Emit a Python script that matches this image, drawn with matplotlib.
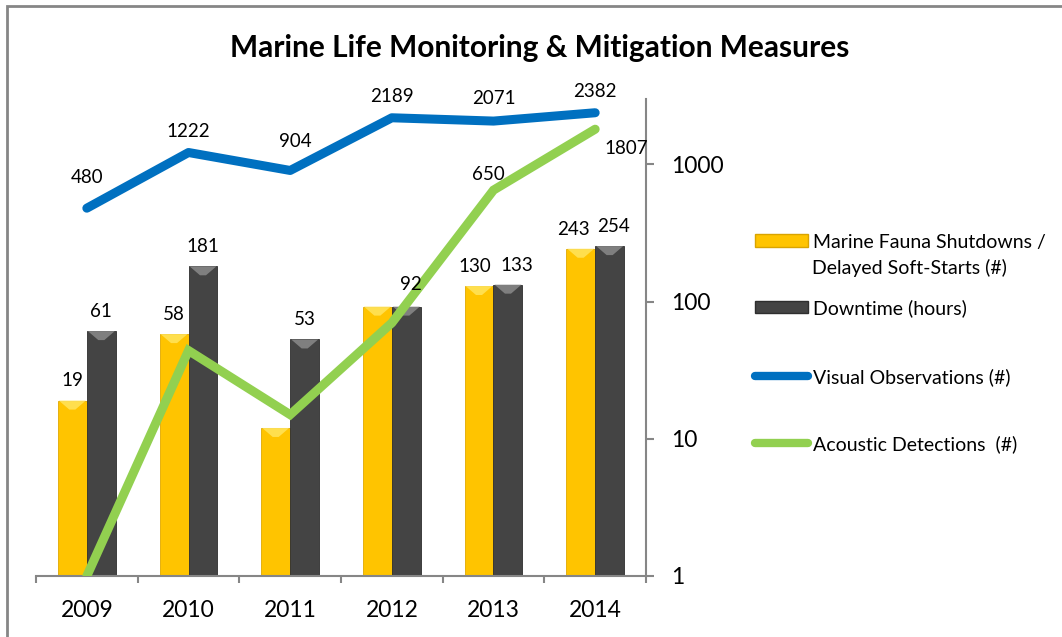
import numpy as np
import matplotlib
matplotlib.use("Agg")
import matplotlib.pyplot as plt
from matplotlib.patches import Polygon, Rectangle
from matplotlib.lines import Line2D
from matplotlib.ticker import FixedLocator, NullFormatter

plt.rcParams["font.family"] = ["Lato", "DejaVu Sans"]

years = ["2009", "2010", "2011", "2012", "2013", "2014"]
shutdowns = [19, 58, 12, 92, 130, 243]
downtime = [61, 181, 53, 92, 133, 254]
visual_obs = [480, 1222, 904, 2189, 2071, 2382]
acoustic = [1, 44, 15, 70, 650, 1807]

shutdown_labels = ["19", "58", None, None, "130", "243"]
downtime_labels = ["61", "181", "53", "92", "133", "254"]
visual_labels = ["480", "1222", "904", "2189", "2071", "2382"]
acoustic_labels = [None, None, None, None, "650", "1807"]

YELLOW = "#FFC400"
YELLOW_TOP = "#FFE45C"
GRAY = "#444444"
GRAY_TOP = "#8A8A8A"
BLUE = "#0070C0"
GREEN = "#92D050"
AXIS = "#868686"

fig = plt.figure(figsize=(10.62, 6.37), dpi=100)
W, H = 1062, 637
ax = fig.add_axes([36 / W, 1 - 576 / H, (646 - 36) / W, (576 - 99) / H])

x = np.arange(len(years))
bw = 0.285
b1 = ax.bar(x - bw / 2, [v - 1 for v in shutdowns], bw, bottom=1, color=YELLOW,
            edgecolor="#E0A800", linewidth=0.6, zorder=2)
b2 = ax.bar(x + bw / 2, [v - 1 for v in downtime], bw, bottom=1, color=GRAY,
            edgecolor="#2E2E2E", linewidth=0.6, zorder=2)

ax.set_yscale("log")
ax.set_ylim(1, 3000)
ax.set_xlim(-0.5, len(years) - 0.5)

ax.plot(x, visual_obs, color=BLUE, lw=6.5, solid_capstyle="round",
        solid_joinstyle="round", zorder=4)
ax.plot(x, acoustic, color=GREEN, lw=6.5, solid_capstyle="round",
        solid_joinstyle="miter", zorder=5)

# bevel on bar tops
fig.canvas.draw()
inv = ax.transData.inverted()
for bars, top_col in ((b1, YELLOW_TOP), (b2, GRAY_TOP)):
    for r in bars:
        x0 = r.get_x()
        x1 = x0 + r.get_width()
        top = r.get_y() + r.get_height()
        (px0, py), (px1, _) = ax.transData.transform([(x0, top), (x1, top)])
        pts = [(px0 + 1, py), (px1 - 1, py), ((px0 + px1) / 2 + 3, py - 9),
               ((px0 + px1) / 2 - 3, py - 9)]
        poly = Polygon(inv.transform(pts), closed=True, color=top_col, alpha=0.85,
                       lw=0, zorder=3)
        ax.add_patch(poly)

lbl_size = 13.5
sh_dx = [0, 0, 0, 0, -3, -5]
dt_dx = [0, 0, 0, 3, 6, 3]
dt_dy = [8, 8, 8, 10, 8, 8]
for xi, v, t, dx in zip(x, shutdowns, shutdown_labels, sh_dx):
    if t:
        ax.annotate(t, (xi - bw / 2, v), xytext=(dx, 8), textcoords="offset points",
                    ha="center", va="bottom", fontsize=lbl_size, zorder=7)
for xi, v, t, dx, dy in zip(x, downtime, downtime_labels, dt_dx, dt_dy):
    if t:
        ax.annotate(t, (xi + bw / 2, v), xytext=(dx, dy), textcoords="offset points",
                    ha="center", va="bottom", fontsize=lbl_size, zorder=7)
vis_dy = [16, 9, 15, 9, 10, 9]
vis_dx = [0, 0, 4, 0, 0, 0]
for xi, v, t, dx, dy in zip(x, visual_obs, visual_labels, vis_dx, vis_dy):
    ax.annotate(t, (xi, v), xytext=(dx, dy), textcoords="offset points",
                ha="center", va="bottom", fontsize=lbl_size, zorder=7)
ac_offsets = [None, None, None, None, (-4, 5), (7, -8)]
ac_align = [None, None, None, None, ("center", "bottom"), ("left", "top")]
for xi, v, t, off, al in zip(x, acoustic, acoustic_labels, ac_offsets, ac_align):
    if t:
        ax.annotate(t, (xi, v), xytext=off, textcoords="offset points",
                    ha=al[0], va=al[1], fontsize=lbl_size, zorder=7)

# axes styling
for s in ("top", "left"):
    ax.spines[s].set_visible(False)
ax.spines["bottom"].set_color(AXIS)
ax.spines["right"].set_color(AXIS)
ax.spines["bottom"].set_linewidth(1.5)
ax.spines["right"].set_linewidth(1.5)

ax.yaxis.tick_right()
ax.yaxis.set_major_locator(FixedLocator([1, 10, 100, 1000]))
ax.yaxis.set_minor_locator(FixedLocator([]))
ax.set_yticklabels(["1", "10", "100", "1000"])
ax.tick_params(axis="y", which="major", direction="out", length=6, width=1.5,
               color=AXIS, pad=12, labelsize=16.5)

ax.set_xticks(x)
ax.set_xticklabels(years)
ax.xaxis.set_minor_locator(FixedLocator(np.arange(-0.5, len(years), 1.0)))
ax.xaxis.set_minor_formatter(NullFormatter())
ax.tick_params(axis="x", which="major", length=0, pad=17, labelsize=16.5)
ax.tick_params(axis="x", which="minor", direction="out", length=5, width=1.5,
               color=AXIS)

fig.text(540 / W, 1 - 48 / H, "Marine Life Monitoring & Mitigation Measures",
         ha="center", va="center", fontsize=21.5, fontweight="bold")

# legend, one entry per row so rows sit where the reference has them
handles = [
    Rectangle((0, 0), 1, 1, facecolor=YELLOW, edgecolor="#D9A400"),
    Rectangle((0, 0), 1, 1, facecolor=GRAY, edgecolor="#2E2E2E"),
    Line2D([], [], color=BLUE, lw=6, solid_capstyle="round"),
    Line2D([], [], color=GREEN, lw=6, solid_capstyle="round"),
]
labels = ["Marine Fauna Shutdowns /", "Downtime (hours)",
          "Visual Observations (#)", "Acoustic Detections  (#)"]
row_y = [242, 308, 377, 444]
for h, lab, ry in zip(handles, labels, row_y):
    fig.legend([h], [lab], loc="center left", bbox_to_anchor=(751 / W, 1 - ry / H),
               frameon=False, fontsize=14, handlelength=2.75, handleheight=0.6,
               handletextpad=0.25, borderaxespad=0, borderpad=0.2)
fig.text(812 / W, 1 - 268 / H, "Delayed Soft-Starts (#)", ha="left", va="center",
         fontsize=14)

# chart border
fig.patches.append(Rectangle((7 / W, -0.1), 2, 1 - 6 / H + 0.1, transform=fig.transFigure,
                             fill=False, edgecolor=AXIS, lw=2))

fig.savefig("out.png", dpi=100)
